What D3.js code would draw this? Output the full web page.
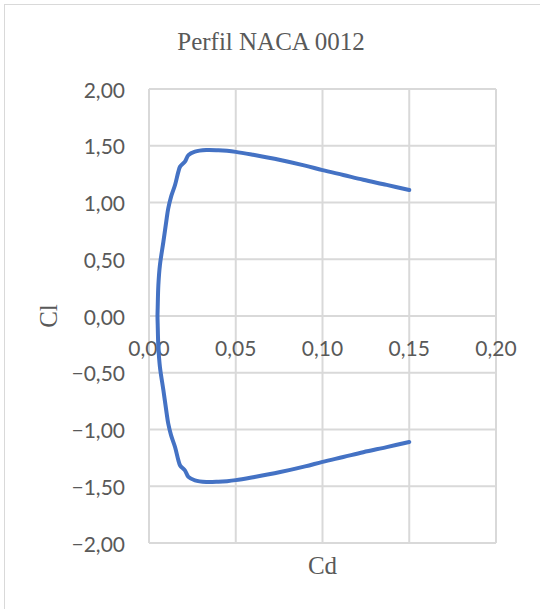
<!DOCTYPE html>
<html>
<head>
<meta charset="utf-8">
<script src="https://cdn.jsdelivr.net/npm/d3@7"></script>
<style>
  html, body { margin: 0; padding: 0; background: #fff; }
  svg { display: block; }
</style>
</head>
<body>
<svg id="chart" width="540" height="609"></svg>
<script>
// Polar of the NACA 0012 section: drag coefficient (Cd) vs lift coefficient (Cl)
const cdValues = [
  0.1500, 0.1370, 0.1235, 0.1120, 0.1000, 0.0900, 0.0750, 0.0600, 0.0500,
  0.0450, 0.0400, 0.0330, 0.0265, 0.0227, 0.0207, 0.0179, 0.0169, 0.0150,
  0.0127, 0.0111, 0.0102, 0.0083, 0.0063, 0.0054, 0.0050, 0.0049,
  0.0050, 0.0054, 0.0063, 0.0083, 0.0102, 0.0111, 0.0127, 0.0150, 0.0169,
  0.0179, 0.0207, 0.0227, 0.0265, 0.0330, 0.0400, 0.0450, 0.0500, 0.0600,
  0.0750, 0.0900, 0.1000, 0.1120, 0.1235, 0.1370, 0.1500
];
const clValues = [
  -1.110, -1.155, -1.200, -1.242, -1.285, -1.325, -1.377, -1.420, -1.446,
  -1.455, -1.460, -1.462, -1.448, -1.418, -1.360, -1.316, -1.270, -1.154,
  -1.050, -0.949, -0.860, -0.655, -0.449, -0.273, -0.068, 0.000,
  0.068, 0.273, 0.449, 0.655, 0.860, 0.949, 1.050, 1.154, 1.270,
  1.316, 1.360, 1.418, 1.448, 1.462, 1.460, 1.455, 1.446, 1.420,
  1.377, 1.325, 1.285, 1.242, 1.200, 1.155, 1.110
];
const xTicks = [0, 0.05, 0.10, 0.15, 0.20];
const yTicks = [-2, -1.5, -1, -0.5, 0, 0.5, 1, 1.5, 2];
const chartTitle = "Perfil NACA 0012";
const xTitle = "Cd";
const yTitle = "Cl";

const svg = d3.select("#chart");
const plot = { left: 149, right: 496, top: 89, bottom: 543 };

const x = d3.scaleLinear().domain([0, 0.20]).range([plot.left, plot.right]);
const y = d3.scaleLinear().domain([-2, 2]).range([plot.bottom, plot.top]);
const fmt = v => d3.format(".2f")(v).replace(".", ",");

const gridColor = "#d9d9d9";
const textColor = "#595959";
const tickFont = "Lato, 'Liberation Sans', sans-serif";
const titleFont = "'Liberation Serif', 'Times New Roman', serif";

// chart area border
svg.append("rect")
  .attr("x", 4.5).attr("y", 4.5)
  .attr("width", 700).attr("height", 700)
  .attr("fill", "none").attr("stroke", gridColor).attr("stroke-width", 1);

// vertical gridlines
svg.append("g").selectAll("line").data(xTicks).join("line")
  .attr("x1", d => x(d)).attr("x2", d => x(d))
  .attr("y1", plot.top).attr("y2", plot.bottom)
  .attr("stroke", gridColor).attr("stroke-width", 2);

// horizontal gridlines
svg.append("g").selectAll("line").data(yTicks).join("line")
  .attr("x1", plot.left).attr("x2", plot.right)
  .attr("y1", d => y(d)).attr("y2", d => y(d))
  .attr("stroke", gridColor).attr("stroke-width", 2);

// y tick labels
svg.append("g").selectAll("text").data(yTicks).join("text")
  .attr("x", 125).attr("y", d => y(d))
  .attr("text-anchor", "end").attr("dominant-baseline", "central")
  .attr("font-family", tickFont).attr("font-size", 21)
  .attr("fill", textColor)
  .text(d => fmt(d));

// x tick labels, placed under the Cl = 0 axis
svg.append("g").selectAll("text").data(xTicks).join("text")
  .attr("x", d => x(d)).attr("y", y(0) + 40)
  .attr("text-anchor", "middle")
  .attr("font-family", tickFont).attr("font-size", 21)
  .attr("fill", textColor)
  .text(d => fmt(d));

// polar curve
const points = cdValues.map((cd, i) => [cd, clValues[i]]);
svg.append("path")
  .datum(points)
  .attr("d", d3.line().x(d => x(d[0])).y(d => y(d[1])).curve(d3.curveCatmullRom.alpha(0.5)))
  .attr("fill", "none")
  .attr("stroke", "#4472c4")
  .attr("stroke-width", 4)
  .attr("stroke-linejoin", "round")
  .attr("stroke-linecap", "round");

// titles
svg.append("text")
  .attr("x", 271).attr("y", 50)
  .attr("text-anchor", "middle")
  .attr("font-family", titleFont).attr("font-size", 25)
  .attr("fill", textColor)
  .text(chartTitle);

svg.append("text")
  .attr("x", (plot.left + plot.right) / 2).attr("y", 574)
  .attr("text-anchor", "middle")
  .attr("font-family", titleFont).attr("font-size", 25)
  .attr("fill", textColor)
  .text(xTitle);

svg.append("text")
  .attr("transform", `translate(57, ${y(0)}) rotate(-90)`)
  .attr("text-anchor", "middle")
  .attr("font-family", titleFont).attr("font-size", 25)
  .attr("fill", textColor)
  .text(yTitle);
</script>
</body>
</html>
